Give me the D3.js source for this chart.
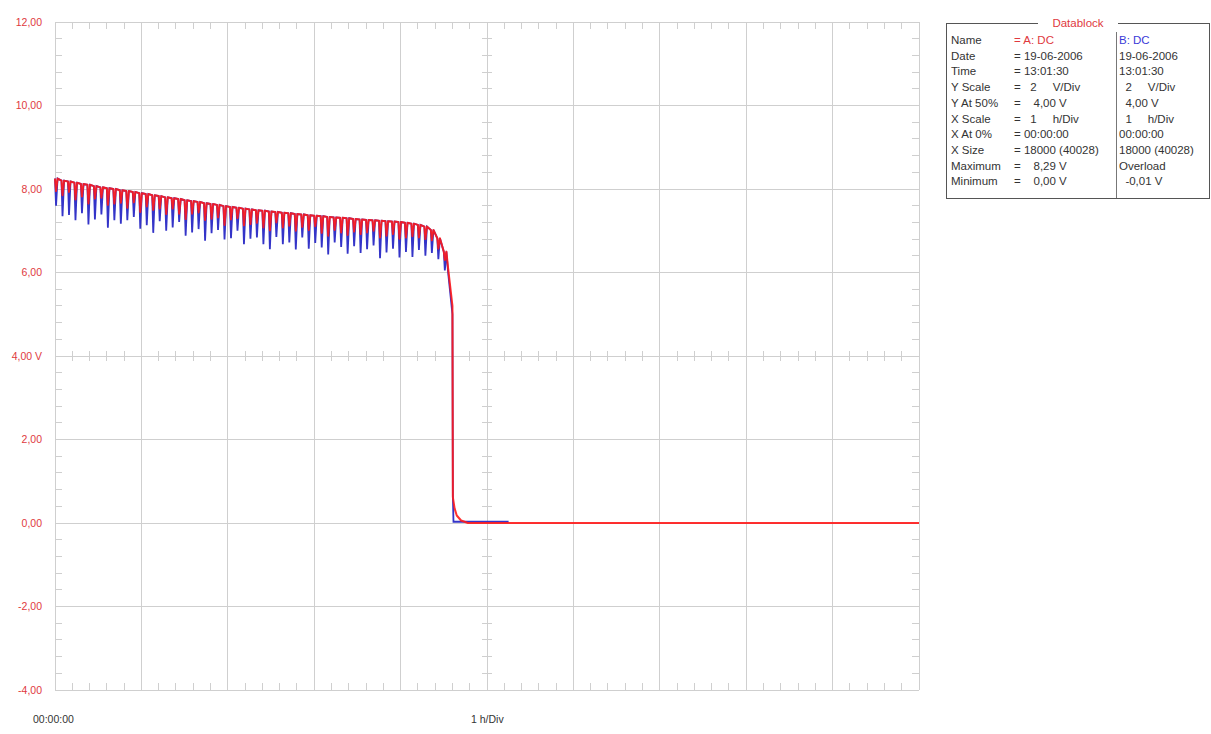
<!DOCTYPE html>
<html>
<head>
<meta charset="utf-8">
<script src="https://cdn.jsdelivr.net/npm/d3@7"></script>
<style>
  body { margin: 0; background: #fff; }
  svg text { font-family: "Liberation Sans", Arial, sans-serif; }
</style>
</head>
<body>
<div id="chart"></div>
<script>
// scope trace, 1 h/Div, 2 V/Div
const spikeStep = 0.075; // hours between charge pulses
const spikeTop = [8.25, 8.20, 8.18, 8.15, 8.12, 8.10, 8.07, 8.04, 8.02, 8.00,
    7.97, 7.95, 7.93, 7.90, 7.88, 7.85, 7.83, 7.80, 7.78, 7.76,
    7.73, 7.71, 7.69, 7.66, 7.64, 7.62, 7.59, 7.57, 7.55, 7.53,
    7.51, 7.49, 7.48, 7.46, 7.45, 7.43, 7.42, 7.40, 7.39, 7.37,
    7.36, 7.35, 7.33, 7.32, 7.31, 7.30, 7.28, 7.27, 7.26, 7.25,
    7.24, 7.23, 7.22, 7.21, 7.19, 7.17, 7.14, 7.10, 7.02, 6.82, 6.50];
// dip depth below the envelope, channel A (red) and B (blue)
const depthA = [0.3, 0.35, 0.25, 0.4, 0.3, 0.45, 0.3, 0.25, 0.4, 0.35,
    0.3, 0.4, 0.25, 0.45, 0.3, 0.35, 0.3, 0.4, 0.25, 0.35,
    0.45, 0.3, 0.25, 0.4, 0.35, 0.3, 0.45, 0.3, 0.25, 0.4,
    0.35, 0.3, 0.4, 0.45, 0.25, 0.35, 0.3, 0.4, 0.3, 0.35,
    0.25, 0.4, 0.45, 0.3, 0.35, 0.4, 0.3, 0.35, 0.3, 0.25,
    0.4, 0.35, 0.3, 0.4, 0.35, 0.3, 0.3, 0.3, 0.25, 0.25, 0.2];
const depthB = [0.65, 0.85, 0.8, 0.9, 0.7, 0.95, 0.8, 0.65, 0.95, 0.75,
    0.8, 0.7, 0.6, 0.85, 0.75, 0.9, 0.6, 0.8, 0.7, 0.55,
    0.85, 0.75, 0.65, 0.9, 0.7, 0.6, 0.8, 0.75, 0.55, 0.85,
    0.7, 0.65, 0.8, 0.9, 0.6, 0.75, 0.7, 0.85, 0.55, 0.8,
    0.65, 0.75, 0.9, 0.6, 0.7, 0.85, 0.65, 0.8, 0.7, 0.6,
    0.9, 0.75, 0.65, 0.85, 0.7, 0.8, 0.6, 0.7, 0.55, 0.5, 0.45];
// end of discharge
const tailTimeA = [4.55, 4.60, 4.605, 4.61, 4.625, 4.65, 4.70, 4.78, 10];
const tailA = [6.10, 5.20, 0.62, 0.55, 0.35, 0.18, 0.06, 0.0, 0.0];
const tailTimeB = [4.55, 4.60, 4.605, 4.612, 4.62, 5.25];
const tailB = [6.00, 5.00, 0.65, 0.03, 0.03, 0.03];

const yTicks = [12, 10, 8, 6, 4, 2, 0, -2, -4];
const yTickLabels = ["12,00", "10,00", "8,00", "6,00", "4,00 V", "2,00", "0,00", "-2,00", "-4,00"];
const xLabels = ["00:00:00", "1 h/Div"];

const dbTitle = "Datablock";
const dbLabels = ["Name", "Date", "Time", "Y Scale", "Y At 50%", "X Scale", "X At 0%", "X Size", "Maximum", "Minimum"];
const dbValuesA = ["= A: DC", "= 19-06-2006", "= 13:01:30", "=   2     V/Div", "=    4,00 V", "=   1     h/Div",
    "= 00:00:00", "= 18000 (40028)", "=    8,29 V", "=    0,00 V"];
const dbValuesB = ["B: DC", "19-06-2006", "13:01:30", "  2     V/Div", "  4,00 V", "  1     h/Div",
    "00:00:00", "18000 (40028)", "Overload", "  -0,01 V"];

const W = 1211, H = 734;
const plot = {left: 55, right: 919, top: 22, bottom: 690};

const svg = d3.select("#chart").append("svg")
    .attr("width", W).attr("height", H);

let x = d3.scaleLinear().domain([0, 10]).range([plot.left, plot.right]);
let y = d3.scaleLinear().domain([-4, 12]).range([plot.bottom, plot.top]);

const gridColor = "#cfcfcf";
const majorX = d3.range(0, 11);
const majorY = d3.range(-4, 13, 2);
const minorX = d3.range(0, 10.01, 0.2);
const minorY = d3.range(-4, 12.01, 0.4);

// grid
let grid = svg.append("g").attr("stroke", gridColor).attr("stroke-width", 1).attr("shape-rendering", "crispEdges");
grid.selectAll(".vl").data(majorX).enter().append("line")
    .attr("x1", d => x(d)).attr("x2", d => x(d))
    .attr("y1", plot.top).attr("y2", plot.bottom);
grid.selectAll(".hl").data(majorY).enter().append("line")
    .attr("y1", d => y(d)).attr("y2", d => y(d))
    .attr("x1", plot.left).attr("x2", plot.right);

// minor ticks on the frame and on the centre cross
let ticks = svg.append("g").attr("stroke", gridColor).attr("stroke-width", 1).attr("shape-rendering", "crispEdges");
const tl = 7;
minorX.forEach(function(d) {
    ticks.append("line").attr("x1", x(d)).attr("x2", x(d)).attr("y1", plot.top).attr("y2", plot.top + tl);
    ticks.append("line").attr("x1", x(d)).attr("x2", x(d)).attr("y1", plot.bottom).attr("y2", plot.bottom - tl);
    ticks.append("line").attr("x1", x(d)).attr("x2", x(d)).attr("y1", y(4) - 5).attr("y2", y(4) + 5);
});
minorY.forEach(function(d) {
    ticks.append("line").attr("y1", y(d)).attr("y2", y(d)).attr("x1", plot.left).attr("x2", plot.left + tl);
    ticks.append("line").attr("y1", y(d)).attr("y2", y(d)).attr("x1", plot.right).attr("x2", plot.right - tl);
    ticks.append("line").attr("y1", y(d)).attr("y2", y(d)).attr("x1", x(5) - 5).attr("x2", x(5) + 5);
});

// y labels
let yAxis = d3.axisLeft(y).tickValues(yTicks).tickSize(0).tickPadding(0)
    .tickFormat((d, i) => yTickLabels[i]);
svg.append("g")
    .attr("transform", "translate(42,0)")
    .call(yAxis)
    .call(g => g.select(".domain").remove())
    .call(g => g.selectAll("text").attr("fill", "#e0393e").style("font-size", "10.5px")
        .style("font-family", "Liberation Sans, Arial, sans-serif"));

// x labels
svg.append("text").attr("x", 33).attr("y", 723).attr("fill", "#333")
    .style("font-size", "10.5px").text(xLabels[0]);
svg.append("text").attr("x", 471).attr("y", 723).attr("fill", "#333")
    .style("font-size", "10.5px").text(xLabels[1]);

// build trace points from the pulse data
function tracePoints(depth, tailT, tailV) {
    let pts = [];
    spikeTop.forEach(function(top, i) {
        let t = i * spikeStep;
        pts.push([t, top]);
        pts.push([t + 0.012, top - depth[i]]);
        pts.push([t + 0.03, top]);
    });
    tailT.forEach(function(t, i) { pts.push([t, tailV[i]]); });
    return pts;
}

let line = d3.line().x(d => x(d[0])).y(d => y(d[1]));

svg.append("path")
    .datum(tracePoints(depthB, tailTimeB, tailB))
    .attr("fill", "none").attr("stroke", "#3434c8").attr("stroke-width", 1.8)
    .attr("d", line);

svg.append("path")
    .datum(tracePoints(depthA, tailTimeA, tailA))
    .attr("fill", "none").attr("stroke", "#ff1a1a").attr("stroke-width", 2)
    .attr("stroke-linejoin", "round").attr("stroke-opacity", 0.9)
    .attr("d", line);

// datablock
let db = {left: 946, right: 1209, top: 23, bottom: 198, divider: 1116};
let dbG = svg.append("g").style("font-size", "11.5px");
dbG.append("rect")
    .attr("x", db.left).attr("y", db.top)
    .attr("width", db.right - db.left).attr("height", db.bottom - db.top)
    .attr("fill", "#fff").attr("stroke", "#555").attr("stroke-width", 1)
    .attr("shape-rendering", "crispEdges");
dbG.append("rect").attr("x", 1038).attr("y", db.top - 2).attr("width", 80).attr("height", 4).attr("fill", "#fff");
dbG.append("line")
    .attr("x1", db.divider).attr("x2", db.divider).attr("y1", 32).attr("y2", db.bottom)
    .attr("stroke", "#777").attr("shape-rendering", "crispEdges");
dbG.append("text").attr("x", 1078).attr("y", db.top + 4).attr("text-anchor", "middle")
    .attr("fill", "#e0393e").text(dbTitle);

let rowY = i => 44 + i * 15.7;
dbG.selectAll(".lab").data(dbLabels).enter().append("text")
    .attr("x", 951).attr("y", (d, i) => rowY(i)).attr("fill", "#333").text(d => d);
dbG.selectAll(".va").data(dbValuesA).enter().append("text")
    .attr("x", 1014).attr("y", (d, i) => rowY(i)).attr("xml:space", "preserve")
    .style("white-space", "pre")
    .attr("fill", (d, i) => i === 0 ? "#e0393e" : "#333").text(d => d);
dbG.selectAll(".vb").data(dbValuesB).enter().append("text")
    .attr("x", 1119).attr("y", (d, i) => rowY(i)).attr("xml:space", "preserve")
    .style("white-space", "pre")
    .attr("fill", (d, i) => i === 0 ? "#3a3ad8" : "#333").text(d => d);
</script>
</body>
</html>
